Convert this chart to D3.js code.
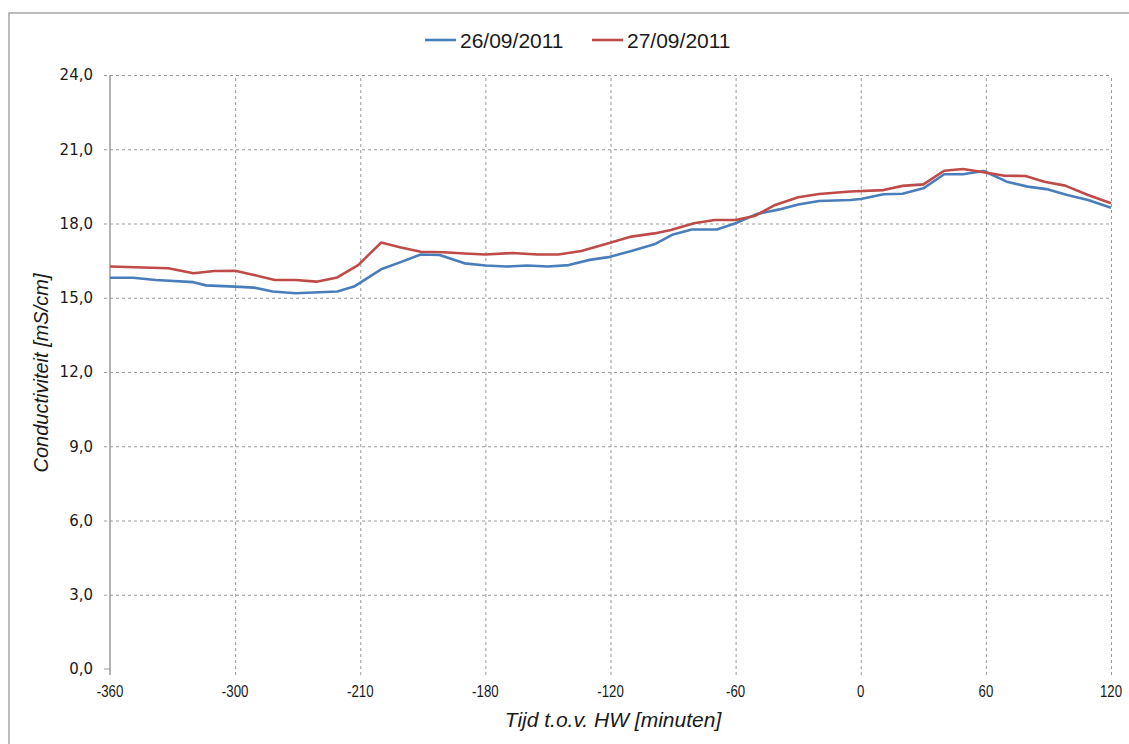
<!DOCTYPE html>
<html><head><meta charset="utf-8">
<script src="https://cdn.jsdelivr.net/npm/d3@7"></script>
<style>
html,body{margin:0;padding:0;background:#fff;}
svg{display:block;}
.ylab{font-family:'DejaVu Sans',Verdana,sans-serif;font-size:15px;fill:#1a1a1a;}
.xlab{font-family:'Liberation Sans',Arial,sans-serif;font-size:17px;fill:#1a1a1a;}
</style></head>
<body>
<script>
// ---- data ----
const seriesNames = ["26/09/2011", "27/09/2011"];
const blueT = [-360,-349,-338,-320,-314,-300,-291,-282,-271,-251,-243,-230,-220,-211,-202,-190,-180,-170,-160,-150,-140,-130,-121,-110,-99,-90,-81,-69,-60,-50,-39,-30,-20,-5,0,11,20,30,40,49,59,70,80,89,99,109,120];
const blueV = [15.81,15.81,15.72,15.63,15.50,15.45,15.41,15.25,15.18,15.25,15.45,16.15,16.46,16.75,16.73,16.39,16.30,16.26,16.30,16.26,16.32,16.53,16.64,16.89,17.16,17.56,17.76,17.76,18.01,18.38,18.57,18.77,18.91,18.95,18.99,19.18,19.20,19.42,19.99,19.99,20.12,19.69,19.49,19.39,19.15,18.95,18.64];
const redT = [-360,-332,-320,-310,-300,-291,-281,-271,-261,-251,-241,-230,-221,-211,-200,-190,-180,-167,-155,-145,-134,-121,-110,-99,-91,-80,-70,-60,-51,-41,-30,-20,-5,11,20,30,40,49,59,69,79,88,98,109,120];
const redV = [16.26,16.19,15.99,16.08,16.09,15.92,15.72,15.72,15.65,15.82,16.32,17.23,17.04,16.86,16.84,16.79,16.75,16.81,16.75,16.75,16.89,17.20,17.47,17.60,17.74,18.01,18.14,18.14,18.30,18.75,19.06,19.19,19.29,19.35,19.52,19.58,20.13,20.20,20.07,19.93,19.92,19.69,19.53,19.15,18.82];
const xTickValues = [-360,-300,-240,-180,-120,-60,0,60,120];
const xTickLabels = ["-360","-300","-210","-180","-120","-60","0","60","120"];
const yTickValues = [0,3,6,9,12,15,18,21,24];
const colors = ["#4a7ebb","#be4b48"];

// ---- layout ----
const W = 1129, H = 744;
const L = 110, R = 1111, T = 75, B = 669;

const svg = d3.select("body").append("svg").attr("width", W).attr("height", H);

// outer border (chart area partially cropped)
svg.append("rect").attr("x", 9).attr("y", 13).attr("width", W + 20).attr("height", H + 20)
  .attr("fill", "none").attr("stroke", "#a6a6a6").attr("stroke-width", 1.5);

const x = d3.scaleLinear().domain([-360, 120]).range([L, R]);
const y = d3.scaleLinear().domain([0, 24]).range([B, T]);

// horizontal gridlines
const gy = svg.append("g").attr("transform", `translate(${L},0)`)
  .call(d3.axisLeft(y).tickValues(yTickValues.filter(v => v > 0)).tickSize(-(R - L)).tickFormat(""));
gy.select(".domain").remove();
gy.selectAll("line").attr("stroke", "#9a9a9a").attr("stroke-dasharray", "3,3").attr("x2", R - L).attr("x1", -6);

// vertical gridlines
const gx = svg.append("g").attr("transform", `translate(0,${B})`)
  .call(d3.axisBottom(x).tickValues(xTickValues.slice(1)).tickSize(-(B - T)).tickFormat(""));
gx.select(".domain").remove();
gx.selectAll("line").attr("stroke", "#9a9a9a").attr("stroke-dasharray", "3,3").attr("y1", 6).attr("y2", -(B - T));

// y axis line (solid)
svg.append("line").attr("x1", L).attr("x2", L).attr("y1", T).attr("y2", B + 6)
  .attr("stroke", "#9a9a9a").attr("stroke-width", 1.5);
svg.append("line").attr("x1", L - 6).attr("x2", L).attr("y1", B).attr("y2", B)
  .attr("stroke", "#9a9a9a").attr("stroke-width", 1);

// y tick labels
svg.append("g").selectAll("text").data(yTickValues).join("text")
  .attr("class", "ylab")
  .attr("x", L - 17).attr("y", d => y(d)).attr("dy", "0.35em").attr("text-anchor", "end")
  .text(d => d3.format(".1f")(d).replace(".", ","));

// x tick labels (condensed)
svg.append("g").selectAll("text").data(xTickValues).join("text")
  .attr("class", "xlab")
  .attr("transform", d => `translate(${x(d)},${B + 28}) scale(0.78,1)`)
  .attr("text-anchor", "middle")
  .text((d, i) => xTickLabels[i]);

// series
const line = d3.line().x(d => x(d[0])).y(d => y(d[1]));
const seriesData = [d3.zip(blueT, blueV), d3.zip(redT, redV)];
seriesData.forEach((s, i) => {
  svg.append("path").datum(s).attr("d", line).attr("fill", "none")
    .attr("stroke", colors[i]).attr("stroke-width", 2.6).attr("stroke-linejoin", "round");
});

// legend
const legendX = [425, 592];
seriesNames.forEach((n, i) => {
  const g = svg.append("g").attr("transform", `translate(${legendX[i]},40)`);
  g.append("line").attr("x1", 0).attr("x2", 31).attr("y1", 0).attr("y2", 0)
    .attr("stroke", colors[i]).attr("stroke-width", 2.6);
  g.append("text").attr("x", 35).attr("y", 7.5).text(n)
    .style("font-family", "'Liberation Sans', Arial, sans-serif").style("font-size", "21px").attr("fill", "#1a1a1a");
});

// axis titles
svg.append("text").attr("x", 613).attr("y", 727).attr("text-anchor", "middle")
  .style("font-family", "'Liberation Sans', Arial, sans-serif").style("font-style", "italic")
  .style("font-size", "21px").attr("fill", "#1a1a1a").text("Tijd t.o.v. HW [minuten]");
svg.append("text").attr("transform", `translate(48,${(T + B) / 2 + 1}) rotate(-90)`).attr("text-anchor", "middle")
  .style("font-family", "'Liberation Sans', Arial, sans-serif").style("font-style", "italic")
  .style("font-size", "20px").attr("fill", "#1a1a1a").text("Conductiviteit [mS/cm]");
</script>
</body></html>
